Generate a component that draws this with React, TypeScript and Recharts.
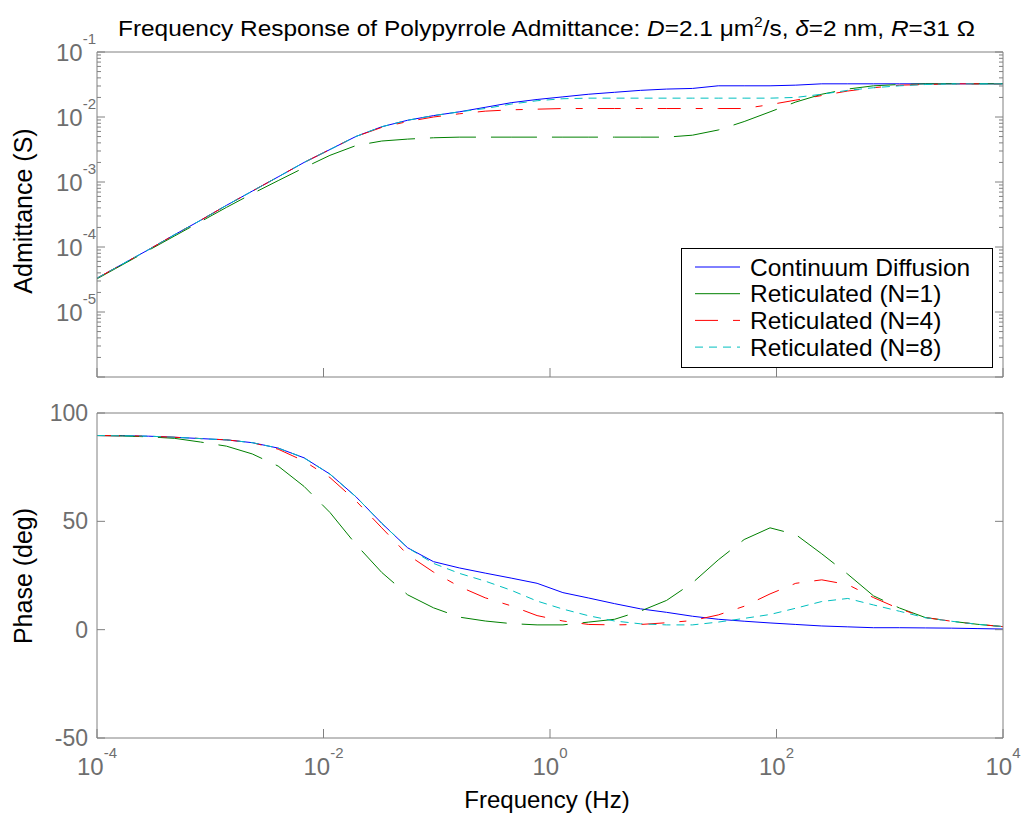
import { Legend, Line, LineChart, XAxis, YAxis } from "recharts";

// frequencies (Hz), 36 log-spaced samples from 1e-4 to 1e4
const FREQ = [
  1.0e-4, 1.69e-4, 2.86e-4, 4.85e-4, 8.2e-4, 1.39e-3, 2.35e-3, 3.98e-3, 6.74e-3,
  1.14e-2, 1.93e-2, 3.27e-2, 5.53e-2, 9.35e-2, 0.158, 0.268, 0.454, 0.769, 1.3,
  2.2, 3.72, 6.31, 10.7, 18.1, 30.6, 51.8, 87.7, 148, 251, 426, 719, 1219, 2061,
  3491, 5902, 10000,
];

// admittance (S)
const ADMIT_CONT = [
  3.31e-5, 5.5e-5, 9.12e-5, 1.55e-4, 2.57e-4, 4.37e-4, 7.24e-4, 1.2e-3, 2.0e-3,
  3.16e-3, 5.01e-3, 7.08e-3, 8.91e-3, 1.05e-2, 1.2e-2, 1.41e-2, 1.66e-2, 1.86e-2,
  2.04e-2, 2.24e-2, 2.4e-2, 2.57e-2, 2.69e-2, 2.75e-2, 3.02e-2, 3.02e-2, 3.02e-2,
  3.09e-2, 3.24e-2, 3.24e-2, 3.24e-2, 3.24e-2, 3.24e-2, 3.24e-2, 3.24e-2, 3.24e-2,
];
const ADMIT_N1 = [
  3.24e-5, 5.37e-5, 8.91e-5, 1.48e-4, 2.45e-4, 4.07e-4, 6.61e-4, 1.05e-3, 1.66e-3,
  2.57e-3, 3.63e-3, 4.27e-3, 4.57e-3, 4.79e-3, 4.9e-3, 4.9e-3, 4.9e-3, 4.9e-3,
  4.9e-3, 4.9e-3, 4.9e-3, 4.9e-3, 4.9e-3, 5.25e-3, 6.31e-3, 8.51e-3, 1.2e-2,
  1.7e-2, 2.24e-2, 2.69e-2, 3.02e-2, 3.16e-2, 3.24e-2, 3.24e-2, 3.24e-2, 3.24e-2,
];
const ADMIT_N4 = [
  3.31e-5, 5.5e-5, 9.12e-5, 1.55e-4, 2.57e-4, 4.37e-4, 7.24e-4, 1.2e-3, 2.0e-3,
  3.16e-3, 5.01e-3, 6.92e-3, 8.51e-3, 1.0e-2, 1.12e-2, 1.23e-2, 1.29e-2, 1.32e-2,
  1.35e-2, 1.35e-2, 1.35e-2, 1.35e-2, 1.35e-2, 1.35e-2, 1.35e-2, 1.35e-2, 1.55e-2,
  1.82e-2, 2.14e-2, 2.51e-2, 2.82e-2, 3.09e-2, 3.16e-2, 3.24e-2, 3.24e-2, 3.24e-2,
];
const ADMIT_N8 = [
  3.31e-5, 5.5e-5, 9.12e-5, 1.55e-4, 2.57e-4, 4.37e-4, 7.24e-4, 1.2e-3, 2.0e-3,
  3.16e-3, 5.01e-3, 7.08e-3, 8.91e-3, 1.05e-2, 1.2e-2, 1.35e-2, 1.58e-2, 1.78e-2,
  1.91e-2, 1.95e-2, 1.95e-2, 1.95e-2, 1.95e-2, 1.95e-2, 1.95e-2, 1.95e-2, 1.95e-2,
  2.0e-2, 2.24e-2, 2.57e-2, 2.82e-2, 3.02e-2, 3.16e-2, 3.24e-2, 3.24e-2, 3.24e-2,
];

// phase (deg)
const PHASE_CONT = [
  89.6, 89.5, 89.3, 88.8, 88.2, 87.6, 86.3, 83.8, 79.3, 71.8, 61.4, 49.1, 37.8,
  31.4, 28.5, 26.1, 23.8, 21.4, 17.1, 14.6, 12.0, 9.6, 8.0, 6.2, 4.8, 3.9, 3.1,
  2.4, 1.7, 1.3, 0.9, 0.9, 0.8, 0.7, 0.5, 0.3,
];
const PHASE_N1 = [
  89.6, 89.4, 89.0, 88.3, 86.6, 84.7, 81.1, 75.5, 66.1, 54.1, 39.4, 26.4, 16.1,
  10.1, 5.8, 4.0, 2.8, 2.2, 2.2, 3.5, 4.8, 8.6, 13.5, 21.6, 32.2, 41.6, 47.0,
  43.9, 35.0, 25.6, 15.6, 10.0, 5.6, 3.9, 2.5, 1.4,
];
const PHASE_N4 = [
  89.6, 89.5, 89.3, 88.8, 88.2, 87.6, 86.3, 83.3, 77.8, 70.2, 59.5, 47.0, 34.6,
  26.6, 19.9, 14.7, 11.0, 6.5, 4.0, 2.4, 2.2, 2.4, 3.2, 4.2, 6.8, 10.8, 16.5,
  21.4, 23.0, 20.8, 14.8, 9.6, 5.6, 3.9, 2.5, 1.4,
];
const PHASE_N8 = [
  89.6, 89.5, 89.3, 88.8, 88.2, 87.6, 86.3, 83.8, 79.3, 71.8, 61.4, 49.1, 37.8,
  30.6, 26.0, 22.4, 18.2, 13.2, 9.5, 6.4, 4.0, 2.7, 2.2, 2.2, 3.5, 5.2, 7.0,
  9.9, 13.0, 14.4, 11.4, 8.5, 5.5, 3.9, 2.5, 1.4,
];

const FREQ_TICKS = [1e-4, 1e-2, 1, 1e2, 1e4];
const ADMIT_DECADES = [1e-6, 1e-5, 1e-4, 1e-3, 1e-2];
const MINOR_STEPS = [1, 2, 3, 4, 5, 6, 7, 8, 9];
const ADMIT_TICKS = [...ADMIT_DECADES.flatMap((d) => MINOR_STEPS.map((m) => m * d)), 1e-1];
const PHASE_TICKS = [-50, 0, 50, 100];

const SERIES = [
  { key: "cont", name: "Continuum Diffusion", color: "#0000ff", dash: undefined },
  { key: "n1", name: "Reticulated (N=1)", color: "#008000", dash: "46 15" },
  { key: "n4", name: "Reticulated (N=4)", color: "#ff0000", dash: "23 15 7 15" },
  { key: "n8", name: "Reticulated (N=8)", color: "#00bfbf", dash: "8 6" },
];

const admitRows = FREQ.map((f, i) => ({
  f, cont: ADMIT_CONT[i], n1: ADMIT_N1[i], n4: ADMIT_N4[i], n8: ADMIT_N8[i],
}));
const phaseRows = FREQ.map((f, i) => ({
  f, cont: PHASE_CONT[i], n1: PHASE_N1[i], n4: PHASE_N4[i], n8: PHASE_N8[i],
}));

const AXIS = "#808080";
const TICK_TEXT = "#6e6e6e";
const FONT = "'Liberation Sans', Arial, sans-serif";

// x tick mark only (dir: -1 draws up from bottom, 1 down from top)
function XMark({ x, y, dir }: any) {
  return <line x1={x} x2={x} y1={y} y2={y + dir * 9} stroke={AXIS} />;
}

function FreqTick({ x, y, payload }: any) {
  const e = Math.round(Math.log10(payload.value));
  return (
    <g>
      <line x1={x} x2={x} y1={y} y2={y - 9} stroke={AXIS} />
      <text x={x} y={y + 37} textAnchor="middle" fill={TICK_TEXT} fontFamily={FONT} fontSize={24}>
        10<tspan dy={-17} fontSize={15}>{e}</tspan>
      </text>
    </g>
  );
}

function AdmitTick({ x, y, payload, side }: any) {
  const lg = Math.log10(payload.value);
  const e = Math.round(lg);
  const major = Math.abs(lg - e) < 1e-6;
  const dir = side === "left" ? 1 : -1;
  return (
    <g>
      <line x1={x} x2={x + dir * (major ? 8 : 4)} y1={y} y2={y} stroke={AXIS} />
      {side === "left" && major && e > -6 && (
        <text x={x - 1} y={y + 9} textAnchor="end" fill={TICK_TEXT} fontFamily={FONT} fontSize={24}>
          10<tspan dy={-17} fontSize={15}>{e}</tspan>
        </text>
      )}
    </g>
  );
}

function PhaseTick({ x, y, payload, side }: any) {
  const dir = side === "left" ? 1 : -1;
  return (
    <g>
      <line x1={x} x2={x + dir * 8} y1={y} y2={y} stroke={AXIS} />
      {side === "left" && (
        <text x={x - 9} y={y + 8} textAnchor="end" fill={TICK_TEXT} fontFamily={FONT} fontSize={23}>
          {payload.value}
        </text>
      )}
    </g>
  );
}

function LegendBox() {
  return (
    <svg width={312} height={120} style={{ display: "block" }}>
      <rect x={0.5} y={0.5} width={311} height={119} fill="#fff" stroke="#000" />
      {SERIES.map((s, i) => {
        const cy = 19 + i * 26.7;
        return (
          <g key={s.key}>
            <line x1={14} x2={59} y1={cy} y2={cy} stroke={s.color} strokeDasharray={s.dash} />
            <text x={69} y={cy + 8.5} fontFamily={FONT} fontSize={24.5} fill="#000">
              {s.name}
            </text>
          </g>
        );
      })}
    </svg>
  );
}

// axes are 1px thick so Recharts still renders them; ticks are drawn inward by the tick components
const axisCommon = {
  tickSize: 0,
  tickMargin: 0,
  tickLine: false,
  interval: 0 as const,
  allowDataOverflow: true,
  axisLine: { stroke: AXIS },
};

export default function App() {
  return (
    <div style={{ position: "absolute", left: 0, top: 0, width: 1021, height: 815, background: "#fff", fontFamily: FONT }}>
      <div style={{ position: "absolute", left: 0, top: 0 }}>
        <LineChart width={1021} height={395} data={admitRows} margin={{ top: 51, right: 17, bottom: 17, left: 96 }}>
          <XAxis xAxisId="b" dataKey="f" type="number" scale="log" domain={[1e-4, 1e4]} ticks={FREQ_TICKS} height={1}
            {...axisCommon} tick={(p: any) => <XMark {...p} dir={-1} />} />
          <XAxis xAxisId="t" orientation="top" type="number" scale="log" domain={[1e-4, 1e4]} ticks={FREQ_TICKS} height={1}
            {...axisCommon} tick={(p: any) => <XMark {...p} dir={1} />} />
          <YAxis yAxisId="l" type="number" scale="log" domain={[1e-6, 1e-1]} ticks={ADMIT_TICKS} width={1}
            {...axisCommon} tick={(p: any) => <AdmitTick {...p} side="left" />} />
          <YAxis yAxisId="r" orientation="right" type="number" scale="log" domain={[1e-6, 1e-1]} ticks={ADMIT_TICKS} width={1}
            {...axisCommon} tick={(p: any) => <AdmitTick {...p} side="right" />} />
          {SERIES.map((s) => (
            <Line key={s.key} xAxisId="b" yAxisId="l" type="linear" dataKey={s.key} name={s.name} stroke={s.color}
              strokeDasharray={s.dash} strokeWidth={1} dot={false} isAnimationActive={false} />
          ))}
          <Legend layout="vertical" align="center" verticalAlign="middle"
            wrapperStyle={{ left: 681, top: 248, width: 312, height: 120 }} content={() => <LegendBox />} />
        </LineChart>
      </div>
      <div style={{ position: "absolute", left: 0, top: 395 }}>
        <LineChart width={1021} height={420} data={phaseRows} margin={{ top: 17, right: 17, bottom: 76, left: 96 }}>
          <XAxis xAxisId="b" dataKey="f" type="number" scale="log" domain={[1e-4, 1e4]} ticks={FREQ_TICKS} height={1}
            {...axisCommon} tick={(p: any) => <FreqTick {...p} />} />
          <XAxis xAxisId="t" orientation="top" type="number" scale="log" domain={[1e-4, 1e4]} ticks={FREQ_TICKS} height={1}
            {...axisCommon} tick={(p: any) => <XMark {...p} dir={1} />} />
          <YAxis yAxisId="l" type="number" domain={[-50, 100]} ticks={PHASE_TICKS} width={1}
            {...axisCommon} tick={(p: any) => <PhaseTick {...p} side="left" />} />
          <YAxis yAxisId="r" orientation="right" type="number" domain={[-50, 100]} ticks={PHASE_TICKS} width={1}
            {...axisCommon} tick={(p: any) => <PhaseTick {...p} side="right" />} />
          {SERIES.map((s) => (
            <Line key={s.key} xAxisId="b" yAxisId="l" type="linear" dataKey={s.key} name={s.name} stroke={s.color}
              strokeDasharray={s.dash} strokeWidth={1} dot={false} isAnimationActive={false} />
          ))}
        </LineChart>
      </div>
      <svg width={1021} height={815} style={{ position: "absolute", left: 0, top: 0, pointerEvents: "none" }}>
        <text x={118} y={36} fontFamily={FONT} fontSize={22} fill="#000" textLength={857} lengthAdjust="spacingAndGlyphs">
          {"Frequency Response of Polypyrrole Admittance: "}
          <tspan fontStyle="italic">D</tspan>
          {"=2.1 μm"}
          <tspan dy={-9} fontSize={14}>2</tspan>
          <tspan dy={9}>{"/s, "}</tspan>
          <tspan fontStyle="italic">δ</tspan>
          {"=2 nm, "}
          <tspan fontStyle="italic">R</tspan>
          {"=31 Ω"}
        </text>
        <text transform="translate(32,211) rotate(-90)" textAnchor="middle" fontFamily={FONT} fontSize={25} fill="#000">
          Admittance (S)
        </text>
        <text transform="translate(32,576) rotate(-90)" textAnchor="middle" fontFamily={FONT} fontSize={25} fill="#000">
          Phase (deg)
        </text>
        <text x={547} y={808} textAnchor="middle" fontFamily={FONT} fontSize={24} fill="#000">
          Frequency (Hz)
        </text>
      </svg>
    </div>
  );
}
